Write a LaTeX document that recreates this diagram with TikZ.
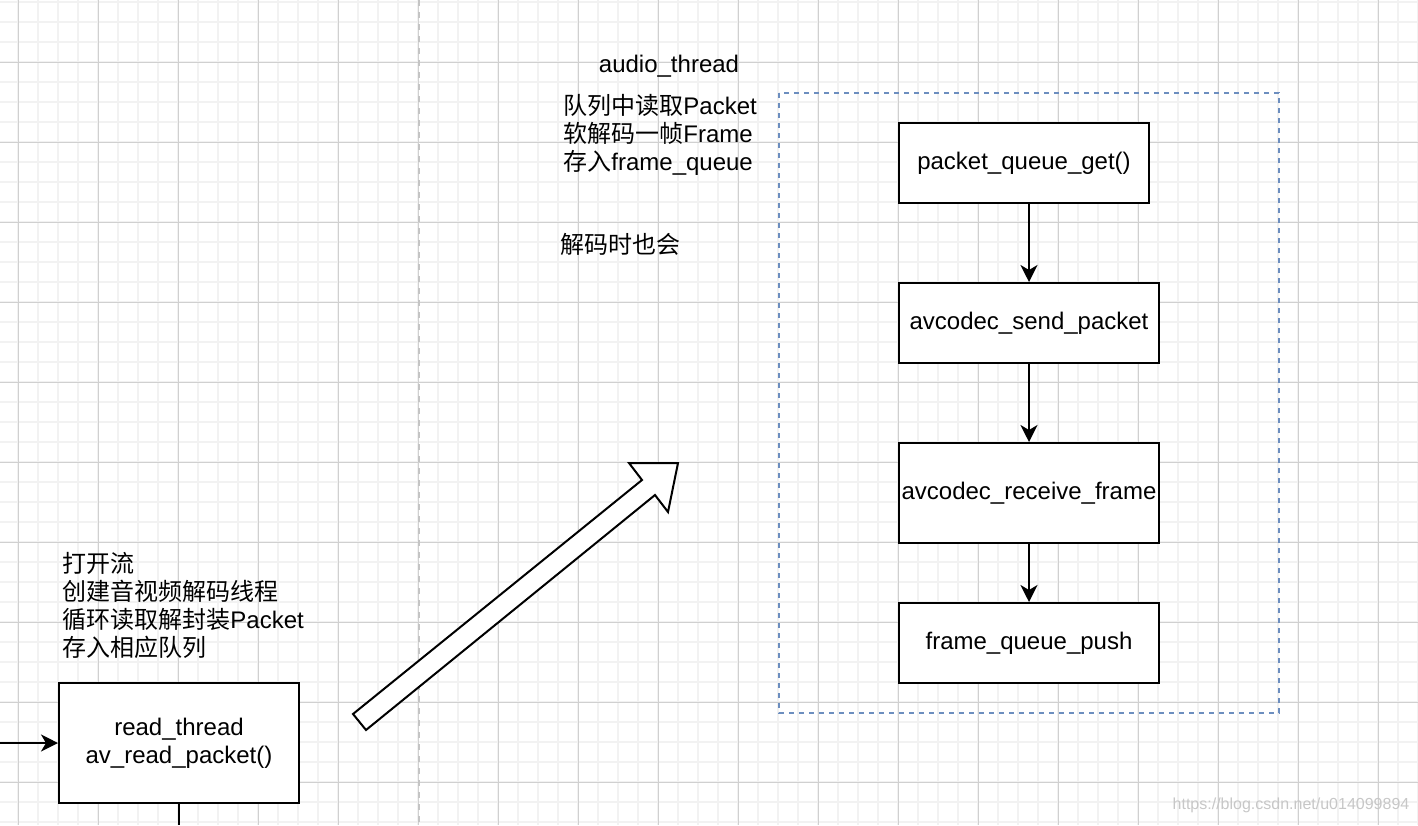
\documentclass[tikz,border=0pt]{standalone}
\usepackage{fontspec}
\setmainfont{Liberation Sans}
\newfontfamily\cjk{Noto Sans CJK SC}
\usetikzlibrary{arrows.meta}
\definecolor{minorgrid}{HTML}{F2F2F2}
\definecolor{majorgrid}{HTML}{D0D0D0}
\definecolor{groupblue}{HTML}{6C8EBF}
\definecolor{sepgray}{HTML}{C4C4C4}
\tikzset{
  stepbox/.style={draw=black, line width=1pt, fill=white, inner sep=0pt, align=center,
    font=\fontsize{12pt}{14pt}\selectfont},
  lbl/.style={inner sep=0pt, align=left, font=\fontsize{12pt}{14pt}\selectfont},
  conn/.style={line width=1pt, -{Stealth[length=8.5pt,width=8.5pt,inset=2.5pt]}},
}
\begin{document}
\begin{tikzpicture}[x=0.5pt,y=-0.5pt]
\useasboundingbox (0,0) rectangle (1418,825);
% grid
\foreach \gx in {18,38,...,1418} \draw[minorgrid, line width=1pt] (\gx,0) -- (\gx,825);
\foreach \gy in {2,22,...,825} \draw[minorgrid, line width=1pt] (0,\gy) -- (1418,\gy);
\foreach \gx in {18,98,...,1418} \draw[majorgrid, line width=0.5pt] (\gx,0) -- (\gx,825);
\foreach \gy in {62,142,...,825} \draw[majorgrid, line width=0.5pt] (0,\gy) -- (1418,\gy);
% separator
\draw[sepgray, line width=1pt, dash pattern=on 3pt off 3pt] (419,0) -- (419,825);
% group
\draw[groupblue, line width=1pt, dash pattern=on 2.5pt off 2.5pt] (779,93) rectangle (1279,713);
% texts
\node[lbl, anchor=center] (title) at (669,66) {audio\_thread};
\node[lbl, anchor=west] (desc) at (563,135) {{\cjk 队列中读取}Packet\\{\cjk 软解码一帧}Frame\\{\cjk 存入}frame\_queue};
\node[lbl, anchor=west] (note) at (560,244) {\cjk 解码时也会};
\node[lbl, anchor=west] (readdesc) at (62,605) {\cjk 打开流\\\cjk 创建音视频解码线程\\{\cjk 循环读取解封装}Packet\\\cjk 存入相应队列};
% boxes
\node[stepbox, minimum width=125pt, minimum height=40pt] (pq) at (1024,163) {\raisebox{-1pt}{packet\_queue\_get()}};
\node[stepbox, minimum width=130pt, minimum height=40pt] (send) at (1029,323) {\raisebox{-1pt}{avcodec\_send\_packet}};
\node[stepbox, minimum width=130pt, minimum height=50pt] (recv) at (1029,493) {\raisebox{-1pt}{avcodec\_receive\_frame}};
\node[stepbox, minimum width=130pt, minimum height=40pt] (push) at (1029,643) {\raisebox{-1pt}{frame\_queue\_push}};
\node[stepbox, minimum width=120pt, minimum height=60pt] (read) at (179,743) {\raisebox{-1pt}{read\_thread}\\\raisebox{-1pt}{av\_read\_packet()}};
% connectors
\draw[conn] (pq.south -| send.north) -- (send.north);
\draw[conn] (send.south) -- (recv.north);
\draw[conn] (recv.south) -- (push.north);
\coordinate (entry) at (0,743);
\coordinate (exit) at (179,825);
\draw[conn] (entry) -- (read.west);
\draw[line width=1pt] (read.south) -- (exit);
% big hollow arrow
\draw[line width=1pt, fill=white, line join=miter] (353,714) -- (642,480) -- (629,463) -- (678,463) -- (668,512) -- (655,495) -- (366,730) -- cycle;
% watermark
\node[inner sep=0pt, text=black!22, font=\fontsize{8pt}{9pt}\selectfont] (wm) at (1291,805) {https://blog.csdn.net/u014099894};
\end{tikzpicture}
\end{document}
